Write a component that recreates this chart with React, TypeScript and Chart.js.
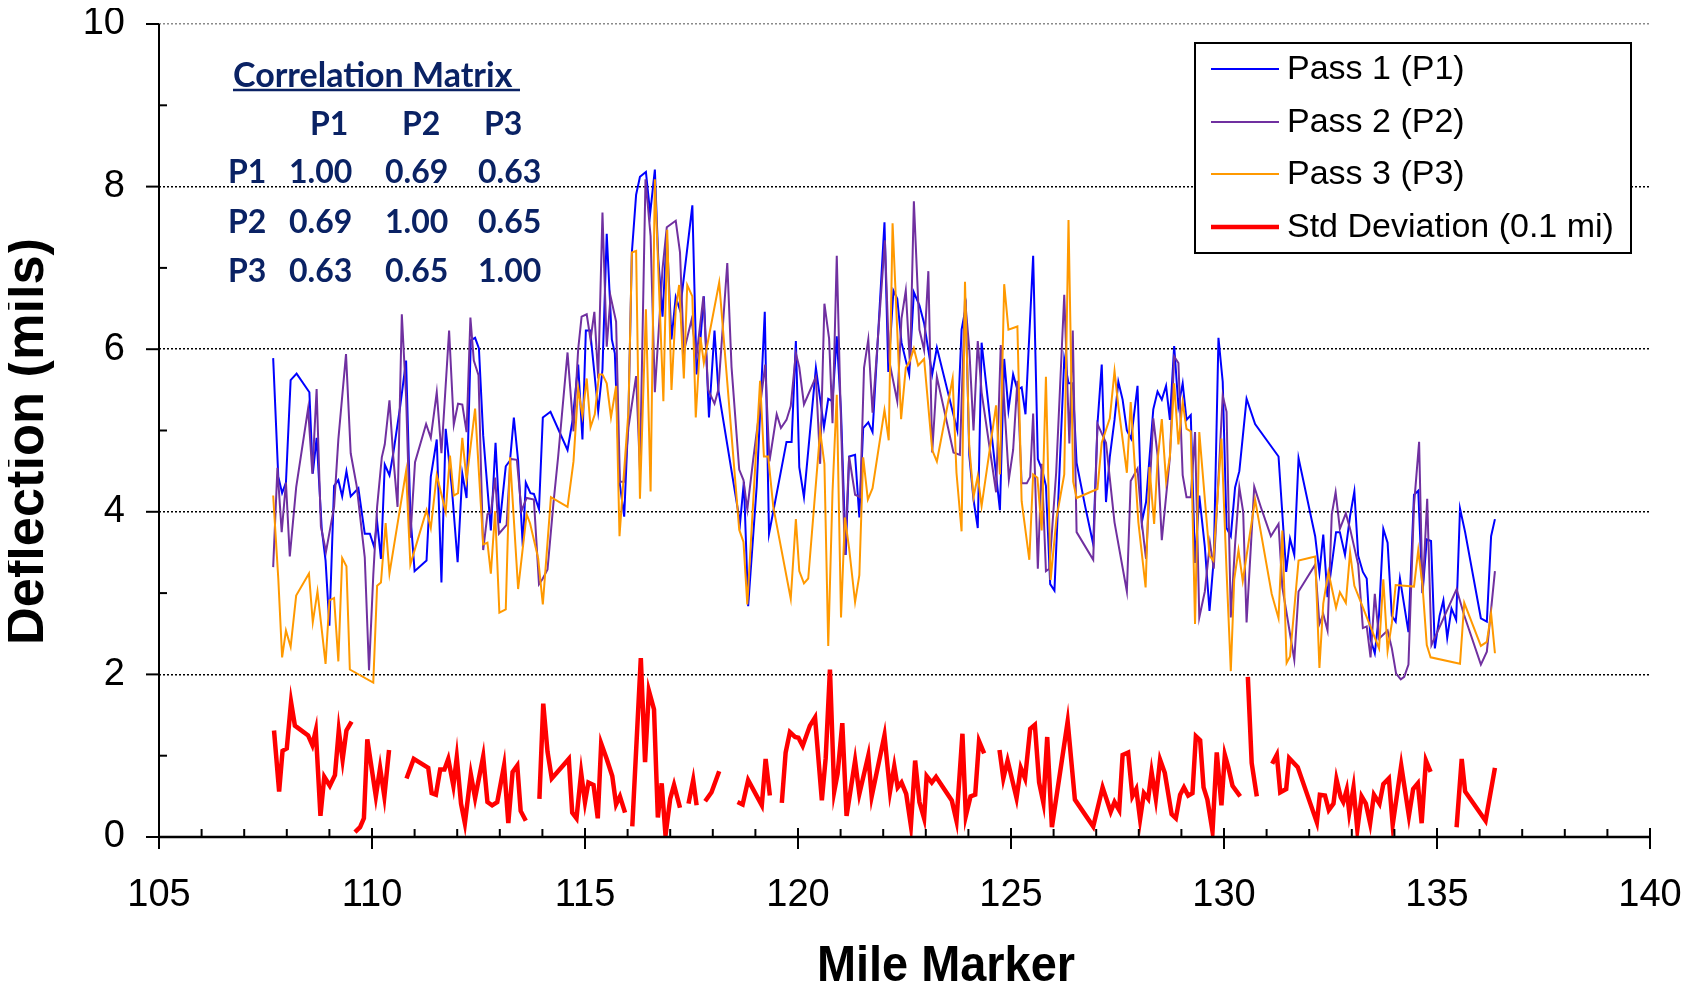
import React, { useEffect, useRef } from "react";
import { Chart, registerables } from "chart.js";
Chart.register(...registerables);

// ---------- DATA ----------
const p1Mile = [107.68,107.80,107.89,107.98,108.09,108.23,108.53,108.61,108.70,108.82,108.91,109.00,109.11,109.21,109.30,109.40,109.50,109.68,109.83,109.95,110.05,110.12,110.21,110.30,110.41,110.50,110.66,110.80,110.90,111.00,111.28,111.38,111.52,111.63,111.73,111.87,112.01,112.12,112.22,112.32,112.42,112.51,112.61,112.79,112.90,113.00,113.14,113.24,113.33,113.43,113.54,113.61,113.72,113.80,113.92,114.01,114.19,114.59,114.71,114.84,114.94,115.02,115.12,115.31,115.41,115.51,115.63,115.70,115.81,115.92,116.02,116.10,116.20,116.29,116.43,116.53,116.64,116.72,116.82,116.92,117.03,117.13,117.23,117.52,117.62,117.70,117.79,117.91,118.04,118.13,118.64,118.73,118.83,119.03,119.22,119.32,119.73,119.85,119.95,120.03,120.14,120.42,120.61,120.71,120.81,120.91,121.01,121.12,121.20,121.34,121.44,121.53,121.65,121.75,122.03,122.12,122.24,122.33,122.43,122.61,122.72,122.85,122.96,123.15,123.26,123.74,123.84,123.94,124.02,124.12,124.22,124.31,124.74,124.84,124.94,125.05,125.15,125.25,125.34,125.52,125.63,125.74,125.82,125.92,126.02,126.25,126.35,126.45,126.54,126.74,126.93,127.03,127.13,127.23,127.32,127.43,127.52,127.62,127.72,127.82,127.97,128.07,128.17,128.34,128.44,128.54,128.64,128.73,128.83,128.93,129.03,129.12,129.22,129.32,129.42,129.55,129.66,129.76,129.87,129.97,130.06,130.16,130.26,130.36,130.53,130.73,131.28,131.46,131.55,131.65,131.75,132.14,132.24,132.33,132.43,132.53,132.63,132.72,132.84,132.96,133.06,133.15,133.26,133.35,133.44,133.54,133.64,133.74,133.84,133.94,134.03,134.13,134.33,134.46,134.56,134.66,134.76,134.86,134.95,135.06,135.15,135.24,135.34,135.45,135.54,135.66,136.03,136.17,136.27,136.36];
const p1Defl = [5.89,4.43,4.23,4.36,5.62,5.70,5.47,4.47,4.91,3.79,3.40,2.60,4.32,4.39,4.19,4.50,4.19,4.29,3.73,3.73,3.57,3.88,3.42,4.58,4.45,4.72,5.29,5.86,3.97,3.27,3.40,4.43,4.89,3.13,5.02,4.32,3.38,4.47,4.17,6.11,6.14,6.01,4.94,3.77,4.85,3.86,4.56,4.63,5.16,4.63,3.57,4.36,4.23,4.22,4.03,5.16,5.23,4.76,5.13,5.81,4.89,6.23,6.23,5.24,5.75,7.42,6.12,5.95,4.37,3.94,5.19,7.19,7.90,8.12,8.18,7.67,8.21,7.11,6.40,7.42,6.12,6.64,6.48,7.77,5.69,6.06,6.65,5.16,6.23,5.50,3.86,4.37,2.84,4.31,6.46,3.73,4.86,4.86,6.10,4.55,4.18,5.77,5.04,5.39,5.36,6.16,5.23,3.47,4.68,4.70,3.93,5.03,5.10,4.98,7.56,5.72,6.72,6.62,6.08,5.69,6.70,6.54,6.32,5.69,6.02,5.00,6.24,6.52,4.70,4.15,3.80,6.08,4.02,5.88,5.25,5.69,5.50,5.53,5.20,7.15,4.65,4.50,4.32,3.11,3.03,5.88,5.58,5.58,4.60,4.07,3.60,5.08,5.81,4.12,4.68,5.13,5.60,5.38,5.00,4.90,5.55,3.87,4.12,5.26,5.48,5.38,5.55,5.13,6.04,5.30,5.58,5.13,5.19,3.37,4.20,3.57,2.78,3.42,6.14,5.60,3.80,3.70,4.30,4.50,5.39,5.08,4.68,3.26,3.67,3.47,4.66,3.70,3.25,3.72,2.95,3.35,3.75,3.75,3.47,3.95,4.25,3.46,3.26,3.18,2.43,2.26,2.74,3.79,3.62,2.72,2.65,3.18,2.52,4.21,4.26,3.00,3.66,3.64,2.32,2.72,2.91,2.45,2.81,2.67,4.04,3.75,2.69,2.65,3.70,3.91];

const p2Mile = [107.68,107.78,107.88,107.98,108.07,108.22,108.50,108.60,108.70,108.80,108.92,109.11,109.21,109.39,109.50,109.64,109.83,109.93,110.03,110.12,110.23,110.30,110.41,110.50,110.60,110.70,110.80,110.90,111.01,111.27,111.38,111.52,111.63,111.81,111.92,112.02,112.12,112.22,112.31,112.39,112.50,112.61,112.71,112.79,112.89,112.98,113.16,113.25,113.40,113.51,113.63,113.80,113.92,114.01,114.12,114.26,114.37,114.59,114.73,114.84,114.92,115.04,115.13,115.22,115.31,115.41,115.51,115.60,115.73,115.82,115.92,116.02,116.20,116.29,116.42,116.54,116.64,116.82,116.92,117.13,117.23,117.32,117.50,117.62,117.78,117.89,118.04,118.13,118.34,118.44,118.62,118.72,118.81,118.95,119.11,119.23,119.33,119.50,119.60,119.73,119.83,119.95,120.03,120.14,120.42,120.52,120.62,120.73,120.81,120.91,121.00,121.10,121.20,121.34,121.46,121.55,121.65,121.75,121.86,122.04,122.14,122.33,122.43,122.53,122.63,122.72,122.85,122.96,123.06,123.15,123.26,123.65,123.80,123.92,124.02,124.12,124.22,124.31,124.65,124.76,124.95,125.05,125.15,125.25,125.37,125.45,125.52,125.63,125.72,125.82,125.90,126.06,126.25,126.37,126.45,126.54,126.93,127.03,127.23,127.43,127.72,127.81,127.97,128.07,128.17,128.34,128.44,128.54,128.73,128.83,128.93,129.03,129.12,129.22,129.32,129.42,129.55,129.67,129.76,129.97,130.06,130.16,130.26,130.36,130.45,130.53,130.71,130.87,131.10,131.28,131.37,131.65,131.75,132.14,132.24,132.33,132.43,132.53,132.62,132.72,132.86,132.96,133.15,133.26,133.35,133.44,133.54,133.64,133.84,133.94,134.04,134.15,134.23,134.33,134.46,134.58,134.66,134.77,134.87,135.46,135.63,136.03,136.17,136.36];
const p2Defl = [3.32,4.54,3.75,4.36,3.45,4.30,5.27,4.47,5.51,3.82,3.51,4.06,4.89,5.94,4.72,4.32,3.44,2.05,3.22,4.06,4.67,4.83,5.37,4.67,4.06,6.43,5.42,3.68,4.61,5.08,4.91,5.47,4.72,6.23,5.07,5.33,5.32,4.98,6.39,5.86,5.68,3.53,3.97,3.99,4.42,3.73,3.84,4.65,4.64,4.01,4.17,4.15,3.11,3.18,3.29,4.11,4.68,5.96,4.99,6.00,6.40,6.43,6.12,6.46,5.64,7.68,6.03,6.65,6.34,4.37,4.37,5.04,5.67,4.51,8.09,7.39,5.47,6.99,7.50,7.58,7.19,5.97,6.36,5.92,6.65,5.50,5.33,5.50,7.06,5.78,4.52,4.39,4.03,4.65,5.30,5.81,4.62,5.20,5.03,5.13,5.30,5.95,5.78,5.32,5.66,4.59,6.56,6.13,5.09,7.15,5.28,3.47,4.68,4.21,4.18,5.77,6.12,5.22,6.02,7.34,5.86,5.36,6.38,6.72,5.80,7.82,6.24,5.99,6.96,4.73,5.66,4.73,4.70,6.62,6.01,5.00,6.10,5.47,4.24,6.05,4.40,4.76,5.61,4.35,4.35,4.43,5.21,3.30,4.59,3.27,3.30,4.48,6.67,4.84,6.23,3.75,3.41,5.08,4.85,3.87,3.02,4.38,4.53,3.87,3.42,5.15,4.70,3.65,4.67,5.91,5.83,4.45,4.18,4.18,4.98,2.70,3.02,3.62,3.30,5.43,5.23,2.70,3.60,4.30,4.00,2.64,4.31,4.05,3.70,3.85,3.07,2.18,3.02,3.35,2.62,2.74,2.54,3.97,4.24,3.79,3.98,3.79,3.35,2.57,2.59,2.21,2.99,2.44,2.54,2.32,2.01,1.94,1.97,2.12,4.08,4.86,3.00,4.16,2.36,3.05,2.74,2.12,2.28,3.27];

const p3Mile = [107.68,107.80,107.89,107.98,108.09,108.22,108.52,108.61,108.72,108.91,109.00,109.11,109.21,109.30,109.40,109.48,110.03,110.12,110.21,110.32,110.41,110.80,110.90,111.28,111.38,111.52,111.73,111.83,111.92,112.02,112.12,112.22,112.42,112.61,112.71,112.79,112.89,112.99,113.14,113.24,113.43,113.63,113.71,113.90,114.01,114.20,114.59,114.73,114.84,114.94,115.04,115.13,115.23,115.33,115.41,115.51,115.61,115.73,115.81,115.90,116.02,116.10,116.20,116.29,116.43,116.54,116.64,116.72,116.84,116.93,117.03,117.13,117.21,117.32,117.40,117.52,117.60,117.71,117.79,118.15,118.62,118.72,118.81,119.11,119.20,119.30,119.42,119.83,119.95,120.03,120.14,120.24,120.52,120.62,120.71,120.81,120.91,121.01,121.10,121.20,121.34,121.44,121.53,121.64,121.75,122.03,122.13,122.22,122.42,122.53,122.63,122.72,122.82,122.96,123.15,123.26,123.63,123.72,123.84,123.92,124.02,124.12,124.22,124.31,124.65,124.74,124.84,124.94,125.15,125.25,125.43,125.52,125.62,125.72,125.82,125.93,126.07,126.25,126.35,126.46,126.54,127.03,127.13,127.32,127.43,127.52,127.72,127.81,127.99,128.16,128.25,128.36,128.44,128.54,128.64,128.73,128.83,128.93,129.03,129.12,129.22,129.32,129.42,129.66,129.75,129.94,130.06,130.16,130.24,130.34,130.44,130.73,131.12,131.28,131.37,131.47,131.55,131.75,132.14,132.24,132.33,132.45,132.63,132.72,132.86,132.96,133.06,133.64,133.74,133.84,133.94,134.03,134.46,134.56,134.66,134.76,134.85,135.54,135.64,136.03,136.17,136.27,136.36];
const p3Defl = [4.20,3.18,2.21,2.54,2.34,2.97,3.24,2.64,3.02,2.13,2.91,2.94,2.16,3.43,3.33,2.06,1.90,3.09,3.13,3.86,3.24,4.50,3.35,4.02,3.80,4.45,4.00,4.69,4.20,4.23,4.91,4.39,5.27,3.60,3.62,3.24,4.01,2.76,2.80,4.67,3.05,3.97,3.86,3.43,2.86,4.18,4.06,4.62,5.52,5.18,5.64,5.04,5.20,5.69,5.69,5.58,5.16,5.55,3.70,4.37,5.24,7.19,7.21,4.16,6.49,4.25,8.09,6.99,5.36,7.47,5.50,6.49,6.79,5.64,6.79,6.65,5.16,6.15,5.83,6.82,3.78,3.63,2.86,5.61,4.68,4.68,4.06,2.93,3.91,3.27,3.12,3.18,4.99,4.59,2.35,4.24,5.44,2.70,3.93,3.55,2.89,3.22,4.67,4.15,4.29,5.25,4.88,7.55,5.14,5.77,5.86,6.01,5.80,5.88,4.76,4.62,5.64,4.48,3.76,6.83,4.81,4.18,4.44,4.07,5.31,4.46,6.80,6.24,6.28,4.13,3.41,4.46,4.42,3.77,5.66,3.16,3.93,4.46,7.59,4.37,4.17,4.28,4.85,5.15,5.73,5.30,4.48,5.35,3.87,3.07,4.55,3.85,4.63,5.14,4.38,4.68,5.58,4.83,5.35,5.02,4.99,2.62,4.98,3.46,3.40,4.90,3.27,2.04,3.17,3.53,3.15,4.15,2.99,2.69,3.77,2.14,2.22,3.40,3.45,2.08,2.87,3.26,2.82,3.01,2.88,3.50,3.09,2.32,3.17,2.29,2.63,3.10,3.08,3.53,3.09,2.36,2.21,2.13,2.88,2.35,2.40,2.75,2.26];

// null = break in the standard deviation trace
const stdMile = [107.70,107.82,107.90,108.00,108.10,108.19,108.50,108.60,108.68,108.79,108.88,109.01,109.13,109.22,109.31,109.40,109.52,109.56,109.60,109.72,109.81,109.89,110.09,110.19,110.29,110.40,110.60,110.81,110.98,111.32,111.40,111.50,111.60,111.70,111.79,111.91,111.99,112.09,112.18,112.32,112.42,112.61,112.71,112.82,112.94,113.10,113.20,113.30,113.41,113.49,113.61,113.80,113.93,114.02,114.12,114.22,114.62,114.70,114.80,114.91,115.00,115.08,115.20,115.30,115.38,115.51,115.64,115.73,115.82,115.94,116.03,116.11,116.31,116.41,116.50,116.62,116.71,116.80,116.89,117.00,117.09,117.23,117.33,117.43,117.54,117.62,117.72,117.82,117.97,118.15,118.40,118.58,118.70,118.83,119.15,119.24,119.34,119.50,119.62,119.71,119.81,119.93,120.01,120.11,120.28,120.40,120.56,120.65,120.75,120.85,120.93,121.04,121.14,121.22,121.34,121.44,121.65,121.73,122.03,122.16,122.26,122.34,122.43,122.54,122.65,122.75,122.85,122.96,123.02,123.14,123.24,123.61,123.72,123.86,123.94,124.05,124.16,124.25,124.37,124.55,124.73,124.82,124.92,125.13,125.23,125.33,125.45,125.56,125.66,125.76,125.85,125.96,126.33,126.50,126.93,127.15,127.34,127.43,127.54,127.62,127.75,127.85,127.94,128.03,128.12,128.22,128.30,128.40,128.50,128.61,128.77,128.87,128.97,129.06,129.16,129.26,129.34,129.44,129.52,129.61,129.73,129.83,129.94,130.02,130.10,130.20,130.38,130.47,130.56,130.65,130.77,130.95,131.13,131.24,131.32,131.46,131.53,131.73,132.18,132.25,132.37,132.46,132.57,132.64,132.74,132.80,132.88,132.94,133.04,133.13,133.23,133.33,133.43,133.52,133.65,133.74,133.87,133.96,134.16,134.34,134.44,134.55,134.64,134.74,134.85,135.15,135.46,135.58,135.66,136.14,136.36];
const stdDev = [1.31,0.56,1.06,1.09,1.66,1.37,1.25,1.13,1.31,0.26,0.74,0.63,0.76,1.31,0.95,1.31,1.42,null,0.06,0.12,0.23,1.20,0.50,0.85,0.50,1.07,null,0.72,0.96,0.85,0.54,0.52,0.83,0.83,0.96,0.63,0.98,0.41,0.17,0.77,0.48,0.99,0.43,0.39,0.43,0.88,0.17,0.80,0.88,0.32,0.20,null,0.47,1.64,1.05,0.72,0.96,0.30,0.23,0.79,0.43,0.67,0.64,0.23,1.15,0.96,0.75,0.40,0.50,0.30,null,0.13,2.20,0.92,1.80,1.57,0.24,0.66,0.02,0.47,0.64,0.36,null,0.41,0.70,0.39,null,0.44,0.55,0.81,null,0.43,0.40,0.70,0.39,0.96,0.51,null,0.42,1.04,1.29,1.23,1.22,1.12,1.37,1.47,0.45,0.97,2.06,0.56,0.78,1.40,0.26,0.53,0.94,0.53,1.00,0.50,1.25,0.56,0.87,0.61,0.67,0.53,0.14,0.94,0.43,0.23,0.75,0.67,0.74,0.45,0.20,1.27,0.26,0.50,0.52,1.18,1.03,null,1.07,0.72,0.94,0.48,0.85,0.72,1.33,1.38,0.67,0.42,1.23,0.12,1.42,0.46,0.13,0.61,0.31,0.43,0.33,1.01,1.04,0.50,0.59,0.22,0.54,0.47,0.80,0.47,0.95,0.79,0.28,0.23,0.52,0.61,0.51,0.54,1.24,1.19,0.61,0.46,0.07,1.04,0.39,1.01,0.86,0.63,0.50,null,1.97,0.91,0.50,null,0.90,1.01,0.55,0.59,0.97,0.86,0.18,0.52,0.51,0.33,0.41,0.71,0.49,0.43,0.58,0.30,0.61,0.09,0.50,0.41,0.17,0.52,0.41,0.65,0.72,0.15,0.88,0.26,0.59,0.66,0.17,0.94,0.80,null,0.12,0.96,0.56,0.20,0.85];

const seriesLabels = ["Pass 1 (P1)", "Pass 2 (P2)", "Pass 3 (P3)", "Std Deviation (0.1 mi)"];
const seriesColors = ["#0000FF", "#7030A0", "#FF9900", "#FF0000"];
const xTickValues = [105, 110, 115, 120, 125, 130, 135, 140];
const xMinorValues = [106,107,108,109,111,112,113,114,116,117,118,119,121,122,123,124,126,127,128,129,131,132,133,134,136,137,138,139];
const yTickValues = [0, 2, 4, 6, 8, 10];
const yMinorValues = [1, 3, 5, 7, 9];
const xTitle = "Mile Marker";
const yTitle = "Deflection (mils)";
const corrTitle = "Correlation Matrix";
const corrNames = ["P1", "P2", "P3"];
const corrValues = [["1.00", "0.69", "0.63"], ["0.69", "1.00", "0.65"], ["0.63", "0.65", "1.00"]];

const FONT = "'Liberation Sans', Arial, Helvetica, sans-serif";
const CORR_FONT = "Lato, 'Open Sans', sans-serif";
const NAVY = "#0A2264";
const CLEAR = "rgba(0,0,0,0)";

const toPoints = (xs: number[], ys: (number | null)[]) => xs.map((x, i) => ({ x, y: ys[i] }));

const decorPlugin = {
  id: "decor",
  afterDraw(chart: any) {
    const { ctx, chartArea: a, scales } = chart;
    const xs = scales.x;
    const ys = scales.y;
    ctx.save();
    ctx.strokeStyle = "#000";
    ctx.setLineDash([]);
    // axis lines
    ctx.lineWidth = 2;
    ctx.beginPath();
    ctx.moveTo(a.left, a.top);
    ctx.lineTo(a.left, a.bottom);
    ctx.stroke();
    ctx.lineWidth = 2.5;
    ctx.beginPath();
    ctx.moveTo(a.left - 1, a.bottom);
    ctx.lineTo(a.right, a.bottom);
    ctx.stroke();
    // y ticks
    ctx.lineWidth = 2;
    yTickValues.forEach((v) => {
      const y = ys.getPixelForValue(v);
      ctx.beginPath();
      ctx.moveTo(a.left - 13, y);
      ctx.lineTo(a.left, y);
      ctx.stroke();
    });
    yMinorValues.forEach((v) => {
      const y = ys.getPixelForValue(v);
      ctx.beginPath();
      ctx.moveTo(a.left, y);
      ctx.lineTo(a.left + 8, y);
      ctx.stroke();
    });
    // x ticks
    xTickValues.forEach((v) => {
      const x = xs.getPixelForValue(v);
      ctx.beginPath();
      ctx.moveTo(x, a.bottom - 9);
      ctx.lineTo(x, a.bottom + 12);
      ctx.stroke();
    });
    xMinorValues.forEach((v) => {
      const x = xs.getPixelForValue(v);
      ctx.beginPath();
      ctx.moveTo(x, a.bottom - 8);
      ctx.lineTo(x, a.bottom);
      ctx.stroke();
    });

    // axis titles
    ctx.fillStyle = "#000";
    ctx.font = `bold 50px ${FONT}`;
    ctx.textAlign = "center";
    ctx.textBaseline = "alphabetic";
    ctx.fillText(xTitle, 938, 973, 258);
    ctx.save();
    ctx.translate(35, 433.5);
    ctx.rotate(-Math.PI / 2);
    ctx.font = `bold 53px ${FONT}`;
    ctx.fillText(yTitle, 0, 0, 407);
    ctx.restore();

    // correlation matrix
    const cx = a.left;
    const cy = a.top;
    ctx.fillStyle = NAVY;
    ctx.textBaseline = "alphabetic";
    ctx.textAlign = "left";
    ctx.font = `bold 34px ${CORR_FONT}`;
    ctx.fillText(corrTitle, cx + 74, cy + 63, 287);
    ctx.strokeStyle = NAVY;
    ctx.lineWidth = 2.5;
    ctx.beginPath();
    ctx.moveTo(cx + 74, cy + 66);
    ctx.lineTo(cx + 361, cy + 66);
    ctx.stroke();
    ctx.font = `bold 32px ${CORR_FONT}`;
    const headerX = [151, 243, 325];
    const colX = [130, 226, 319];
    corrNames.forEach((n, i) => ctx.fillText(n, cx + headerX[i], cy + 111));
    const rowY = [159, 209, 258];
    corrNames.forEach((n, r) => {
      ctx.fillText(n, cx + 69, cy + rowY[r]);
      corrValues[r].forEach((v, c) => ctx.fillText(v, cx + colX[c], cy + rowY[r], 66));
    });

    // legend
    const lx = a.right - 455;
    const ly = a.top + 19;
    const lw = 436;
    const lh = 210;
    ctx.fillStyle = "#fff";
    ctx.fillRect(lx, ly, lw, lh);
    ctx.strokeStyle = "#000";
    ctx.lineWidth = 2;
    ctx.strokeRect(lx, ly, lw, lh);
    ctx.font = `34px ${FONT}`;
    ctx.textBaseline = "middle";
    const rows = [26, 79, 131, 184];
    seriesLabels.forEach((lab, i) => {
      const y = ly + rows[i];
      ctx.strokeStyle = seriesColors[i];
      ctx.lineWidth = i === 3 ? 4.5 : 2;
      ctx.beginPath();
      ctx.moveTo(lx + 16, y);
      ctx.lineTo(lx + 84, y);
      ctx.stroke();
      ctx.fillStyle = "#000";
      ctx.fillText(lab, lx + 92, y + 1);
    });
    ctx.restore();
  },
};

export default function App() {
  const ref = useRef<HTMLCanvasElement>(null);
  useEffect(() => {
    const lineDs = (i: number, xs: number[], ys: (number | null)[], w: number, order: number) => ({
      label: seriesLabels[i],
      data: toPoints(xs, ys),
      borderColor: seriesColors[i],
      backgroundColor: seriesColors[i],
      borderWidth: w,
      pointRadius: 0,
      pointHoverRadius: 0,
      tension: 0,
      fill: false,
      spanGaps: false,
      order,
    });
    const chart = new Chart(ref.current as HTMLCanvasElement, {
      type: "line",
      data: {
        datasets: [
          lineDs(0, p1Mile, p1Defl, 2, 4),
          lineDs(1, p2Mile, p2Defl, 2, 3),
          lineDs(2, p3Mile, p3Defl, 2, 2),
          lineDs(3, stdMile, stdDev, 4.5, 1),
        ],
      },
      options: {
        responsive: false,
        animation: false,
        layout: { padding: { top: 16, right: 36, left: 0, bottom: 0 } },
        plugins: { legend: { display: false }, tooltip: { enabled: false } },
        scales: {
          x: {
            type: "linear",
            min: 105,
            max: 140,
            afterFit: (s: any) => { s.height = 146; },
            ticks: { stepSize: 5, padding: 0, color: "#000", font: { family: FONT, size: 38, lineHeight: 1.2 }, maxRotation: 0 },
            grid: { display: true, drawOnChartArea: false, drawTicks: true, tickLength: 36, color: CLEAR, tickColor: CLEAR },
            border: { display: false },
            title: { display: false },
          },
          y: {
            min: 0,
            max: 10,
            afterFit: (s: any) => { s.width = 151; },
            ticks: { stepSize: 2, padding: 0, color: "#000", font: { family: FONT, size: 38, lineHeight: 0.8 } },
            grid: {
              display: true,
              drawTicks: true,
              tickLength: 34,
              tickColor: CLEAR,
              lineWidth: 1.5,
              color: (c: any) => (c.tick && c.tick.value === 0 ? CLEAR : c.tick && c.tick.value === 10 ? "#8a8a8a" : "#000"),
            },
            border: { display: false, dash: [2, 2] },
            title: { display: false },
          },
        },
      },
      plugins: [decorPlugin],
    } as any);
    return () => chart.destroy();
  }, []);
  return (
    <div style={{ width: 1678, height: 975, position: "relative" }}>
      <canvas ref={ref} width={1678} height={975} style={{ display: "block", width: 1678, height: 975 }} />
    </div>
  );
}
